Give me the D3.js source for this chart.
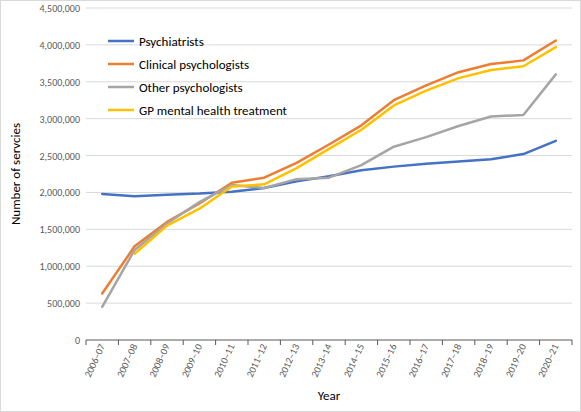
<!DOCTYPE html><html><head><meta charset="utf-8"><script src="https://cdn.jsdelivr.net/npm/d3@7"></script>
<style>body{margin:0;background:#fff}text{font-family:Calibri,Carlito,"Liberation Sans",Arial,sans-serif}</style></head><body><svg id="c" width="581" height="412"></svg><script>
const years=["2006–07","2007–08","2008–09","2009–10","2010–11","2011–12","2012–13","2013–14","2014–15","2015–16","2016–17","2017–18","2018–19","2019–20","2020–21"];
const psychiatrists=[1980000,1950000,1970000,1985000,2010000,2060000,2150000,2220000,2300000,2350000,2390000,2420000,2450000,2520000,2700000];
const clinical=[630000,1270000,1600000,1850000,2130000,2200000,2400000,2650000,2910000,3250000,3450000,3630000,3740000,3790000,4060000];
const other=[450000,1220000,1580000,1870000,2100000,2060000,2180000,2200000,2370000,2620000,2750000,2900000,3030000,3050000,3600000];
const gp=[null,1170000,1550000,1780000,2080000,2110000,2330000,2590000,2850000,3180000,3380000,3550000,3660000,3710000,3970000];
const yTicks=[0,500000,1000000,1500000,2000000,2500000,3000000,3500000,4000000,4500000];
const series=[{name:"Psychiatrists",v:psychiatrists,c:"#4472C4"},{name:"Clinical psychologists",v:clinical,c:"#ED7D31"},{name:"Other psychologists",v:other,c:"#A5A5A5"},{name:"GP mental health treatment",v:gp,c:"#FFC000"}];
const svg=d3.select("#c");
svg.append("rect").attr("x",0.5).attr("y",0.5).attr("width",580).attr("height",411).attr("fill","#fff").attr("stroke","#d9d9d9");
const L=86,R=572,T=8,B=340;
const x=d3.scaleBand().domain(years).range([L,R]);
const y=d3.scaleLinear().domain([0,4500000]).range([B,T]);
svg.append("g").selectAll("line").data(yTicks.slice(1)).join("line").attr("x1",L).attr("x2",R).attr("y1",d=>y(d)).attr("y2",d=>y(d)).attr("stroke","#d9d9d9");
svg.append("g").selectAll("text").data(yTicks).join("text").attr("x",L-6).attr("y",d=>y(d)+4).attr("text-anchor","end").attr("font-size",10).attr("fill","#595959").text(d=>d3.format(",")(d));
svg.append("line").attr("x1",L).attr("x2",R).attr("y1",B).attr("y2",B).attr("stroke","#595959");
svg.append("g").selectAll("line").data(years.concat([null])).join("line").attr("x1",(d,i)=>L+i*x.step()).attr("x2",(d,i)=>L+i*x.step()).attr("y1",B).attr("y2",B+5).attr("stroke","#595959");
svg.append("g").selectAll("text").data(years).join("text").attr("transform",d=>`translate(${x(d)+x.bandwidth()/2+3},${B+6}) rotate(-65)`).attr("text-anchor","end").attr("font-size",10).attr("fill","#595959").text(d=>d);
svg.append("text").attr("x",(L+R)/2).attr("y",400).attr("text-anchor","middle").attr("font-size",13).attr("fill","#000").text("Year");
svg.append("text").attr("transform",`translate(20,${(T+B)/2}) rotate(-90)`).attr("text-anchor","middle").attr("font-size",13).text("Number of servcies");
const line=d3.line().defined(d=>d!=null).x((d,i)=>x(years[i])+x.bandwidth()/2).y(d=>y(d));
series.forEach(s=>svg.append("path").attr("d",line(s.v)).attr("fill","none").attr("stroke",s.c).attr("stroke-width",2.5).attr("stroke-linejoin","round").attr("stroke-linecap","round"));
series.forEach((s,i)=>{const yy=41+i*23;svg.append("line").attr("x1",108).attr("x2",134).attr("y1",yy).attr("y2",yy).attr("stroke",s.c).attr("stroke-width",2.5);svg.append("text").attr("x",139).attr("y",yy+4.5).attr("font-size",13).text(s.name);});
</script></body></html>
